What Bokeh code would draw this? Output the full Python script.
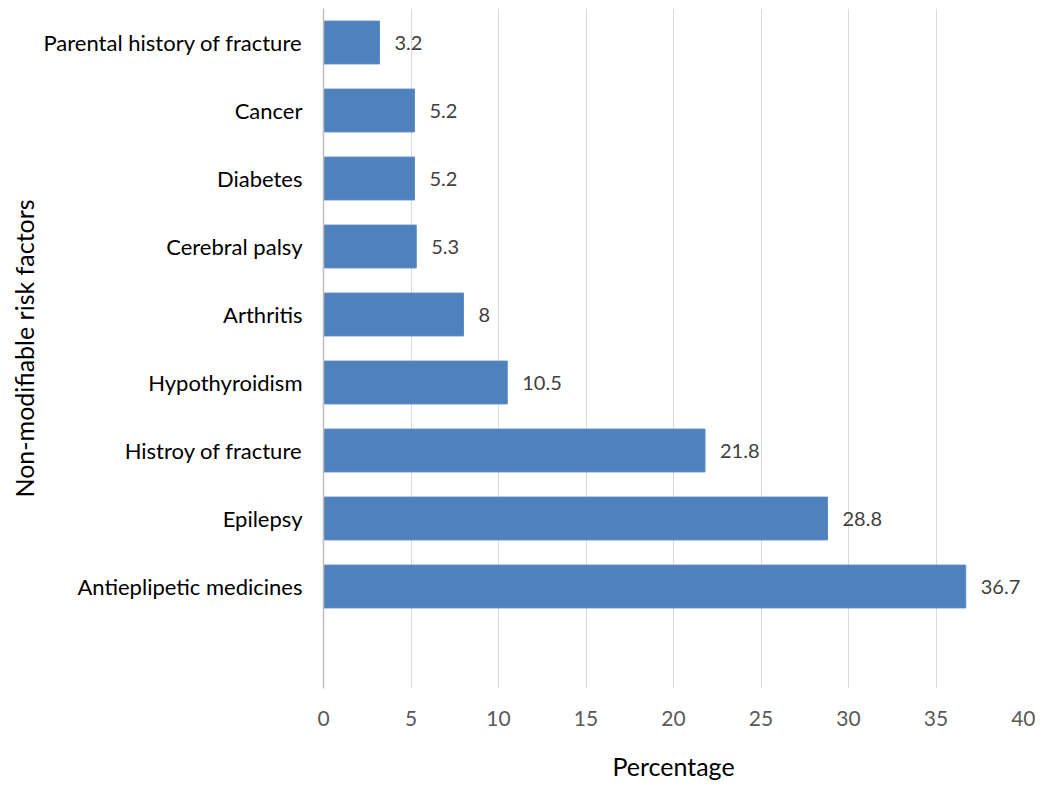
from bokeh.plotting import figure
from bokeh.models import Range1d, FixedTicker, ColumnDataSource
from bokeh.core.properties import value
from bokeh.embed import file_html
from bokeh.resources import INLINE

categories = ["Antieplipetic medicines", "Epilepsy", "Histroy of fracture", "Hypothyroidism",
              "Arthritis", "Cerebral palsy", "Diabetes", "Cancer", "Parental history of fracture"]
percentages = [36.7, 28.8, 21.8, 10.5, 8, 5.3, 5.2, 5.2, 3.2]
value_labels = ["36.7", "28.8", "21.8", "10.5", "8", "5.3", "5.2", "5.2", "3.2"]
x_ticks = [0, 5, 10, 15, 20, 25, 30, 35, 40]

FONT = "Lato"
ypos = [i + 1.5 for i in range(len(categories))]

src = ColumnDataSource(dict(y=ypos, v=percentages, lab=value_labels, cat=categories))

p = figure(width=1035, height=783, output_backend="svg", toolbar_location=None,
           x_range=Range1d(0, 40), y_range=Range1d(0, 10),
           min_border_left=323, min_border_right=12, min_border_top=8, min_border_bottom=95)
p.outline_line_color = None
p.background_fill_color = "white"

p.hbar(y="y", left=0, right="v", height=0.63, source=src,
       fill_color="#4F81BD", line_color="#5B8BC6", line_width=1)
p.text(x="v", y="y", text="lab", source=src, x_offset=15, text_align="left",
       text_baseline="middle", text_font=value(FONT), text_font_size="20px",
       text_color="#404040")

# x axis
p.xaxis.ticker = FixedTicker(ticks=x_ticks)
p.xaxis.axis_line_color = None
p.xaxis.major_tick_line_color = None
p.xaxis.minor_tick_line_color = None
p.xaxis.major_label_text_font = FONT
p.xaxis.major_label_text_font_size = "21px"
p.xaxis.major_label_text_color = "#595959"
p.xaxis.major_label_standoff = 16
p.xaxis.axis_label = "Percentage"
p.xaxis.axis_label_text_font = FONT
p.xaxis.axis_label_text_font_size = "25px"
p.xaxis.axis_label_text_font_style = "normal"
p.xaxis.axis_label_text_color = "black"
p.xaxis.axis_label_standoff = 22

# y axis
p.yaxis.ticker = FixedTicker(ticks=ypos)
p.yaxis.major_label_overrides = {y: c for y, c in zip(ypos, categories)}
p.yaxis.axis_line_color = "#BFBFBF"
p.yaxis.axis_line_width = 1.5
p.yaxis.major_tick_line_color = None
p.yaxis.minor_tick_line_color = None
p.yaxis.major_label_text_font = FONT
p.yaxis.major_label_text_font_size = "22px"
p.yaxis.major_label_text_color = "black"
p.yaxis.major_label_standoff = 15
p.yaxis.axis_label = "Non-modifiable risk factors"
p.yaxis.axis_label_text_font = FONT
p.yaxis.axis_label_text_font_size = "25px"
p.yaxis.axis_label_text_font_style = "normal"
p.yaxis.axis_label_text_color = "black"
p.yaxis.axis_label_standoff = 2

p.xgrid.grid_line_color = "#D9D9D9"
p.xgrid.grid_line_width = 1
p.ygrid.grid_line_color = None

open("out.html", "w").write(file_html(p, INLINE))
